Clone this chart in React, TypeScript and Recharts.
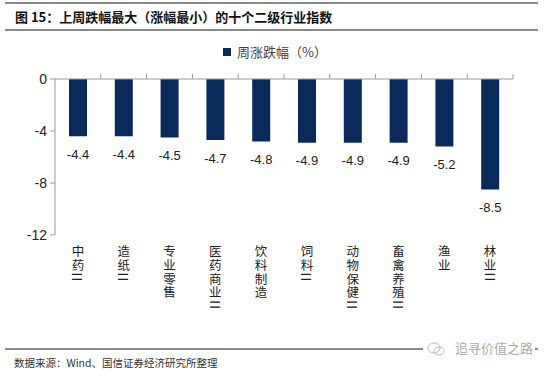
import React from "react";
import { BarChart, Bar, XAxis, YAxis, LabelList } from "recharts";

const categories = ["中药II", "造纸II", "专业零售", "医药商业II", "饮料制造", "饲料II", "动物保健II", "畜禽养殖II", "渔业", "林业II"];
const weeklyChange = [-4.4, -4.4, -4.5, -4.7, -4.8, -4.9, -4.9, -4.9, -5.2, -8.5];
const yTicks = [0, -4, -8, -12];
const seriesName = "周涨跌幅（%）";
const titleText = "图 15：上周跌幅最大（涨幅最小）的十个二级行业指数";
const sourceText = "数据来源：Wind、国信证券经济研究所整理";
const watermarkText = "追寻价值之路";

const data = categories.map((c, i) => ({ name: c, value: weeklyChange[i] }));

const W = 550;
const H = 376;
const PLOT_LEFT = 55;
const PLOT_RIGHT = 513;
const PLOT_TOP = 79;
const PLOT_BOTTOM = 235;
const AXIS_H = 30;
const STEP = (PLOT_RIGHT - PLOT_LEFT) / categories.length;
const BAR_COLOR = "#0b2a5c";
const AXIS_COLOR = "#999";
const CJK = "'Noto Sans CJK SC', sans-serif";
const LATIN = "'Liberation Sans', Arial, sans-serif";

const CategoryTick = (props: any) => {
  const { x, payload } = props;
  return (
    <text
      x={x}
      y={PLOT_BOTTOM + 10}
      style={{ writingMode: "vertical-rl", textOrientation: "mixed" } as any}
      textAnchor="start"
      fontFamily={CJK}
      fontSize={12.5}
      letterSpacing={1.3}
      fill="#222"
    >
      {String(payload.value)}
    </text>
  );
};

const BoundaryTick = (props: any) => {
  const { x } = props;
  const bx = x + STEP / 2;
  return <line x1={bx} x2={bx} y1={PLOT_TOP} y2={PLOT_TOP - 5} stroke={AXIS_COLOR} strokeWidth={1} />;
};

const ValueLabel = (props: any) => {
  const { x, y, width, height, value } = props;
  const end = Math.max(y, y + height);
  return (
    <text
      x={x + width / 2}
      y={end + 18}
      textAnchor="middle"
      dominantBaseline="central"
      fontFamily={LATIN}
      fontSize={13}
      fill="#222"
    >
      {Number(value).toFixed(1)}
    </text>
  );
};

export default function App() {
  return (
    <div style={{ position: "absolute", left: 0, top: 0, width: W, height: H, background: "#fff", overflow: "hidden" }}>
      <div style={{ position: "absolute", left: 5, top: 2, width: 533, height: 2, background: "#8a8a8a" }} />
      <div
        style={{
          position: "absolute",
          left: 15,
          top: 8,
          fontFamily: CJK,
          fontWeight: 700,
          fontSize: 13,
          lineHeight: "18px",
          color: "#111",
          whiteSpace: "nowrap",
        }}
      >
        {titleText}
      </div>
      <div style={{ position: "absolute", left: 5, top: 29, width: 533, height: 2, background: "#8a8a8a" }} />

      <div style={{ position: "absolute", left: 0, top: 0 }}>
        <BarChart
          width={W}
          height={H}
          data={data}
          margin={{ top: PLOT_TOP - AXIS_H, right: W - PLOT_RIGHT, bottom: H - PLOT_BOTTOM - AXIS_H, left: 0 }}
          barCategoryGap={0}
        >
          <XAxis
            xAxisId="top"
            orientation="top"
            dataKey="name"
            height={AXIS_H}
            axisLine={{ stroke: AXIS_COLOR }}
            tickLine={false}
            tick={<BoundaryTick />}
            interval={0}
          />
          <XAxis
            xAxisId="bottom"
            orientation="bottom"
            dataKey="name"
            height={AXIS_H}
            axisLine={false}
            tickLine={false}
            tick={<CategoryTick />}
            interval={0}
          />
          <YAxis
            domain={[-12, 0]}
            ticks={yTicks}
            width={PLOT_LEFT}
            axisLine={{ stroke: AXIS_COLOR }}
            tickLine={{ stroke: AXIS_COLOR }}
            tickSize={5}
            tickMargin={3}
            tick={{ fontFamily: LATIN, fontSize: 14, fill: "#222" }}
            interval={0}
            allowDataOverflow
          />
          <Bar dataKey="value" xAxisId="top" name={seriesName} fill={BAR_COLOR} barSize={18} isAnimationActive={false}>
            <LabelList dataKey="value" content={<ValueLabel />} />
          </Bar>
          <Bar dataKey="value" xAxisId="bottom" fill="none" barSize={0} legendType="none" isAnimationActive={false} />
        </BarChart>
      </div>

      <div
        style={{
          position: "absolute",
          left: 0,
          top: 43,
          width: W,
          display: "flex",
          justifyContent: "center",
          alignItems: "center",
          fontFamily: CJK,
          fontSize: 13,
          lineHeight: "18px",
          color: "#444",
        }}
      >
        <span style={{ display: "inline-block", width: 8, height: 8, background: BAR_COLOR, marginRight: 6 }} />
        <span>{seriesName}</span>
      </div>

      <div style={{ position: "absolute", left: 5, top: 348, width: 533, height: 2, background: "#8a8a8a" }} />
      <div style={{ position: "absolute", left: 423, top: 340, width: 112, height: 18, background: "#fff" }} />
      <svg style={{ position: "absolute", left: 426, top: 341 }} width={20} height={16}>
        <ellipse cx={8} cy={7} rx={6} ry={5} fill="none" stroke="#bbb" strokeWidth={1} />
        <ellipse cx={13} cy={10} rx={5} ry={4} fill="none" stroke="#bbb" strokeWidth={1} />
      </svg>
      <div
        style={{
          position: "absolute",
          left: 455,
          top: 340,
          fontFamily: CJK,
          fontSize: 13,
          lineHeight: "16px",
          color: "#aaa",
          whiteSpace: "nowrap",
        }}
      >
        {watermarkText}
      </div>
      <div
        style={{
          position: "absolute",
          left: 14,
          top: 355,
          fontFamily: CJK,
          fontSize: 10.5,
          lineHeight: "16px",
          color: "#333",
          whiteSpace: "nowrap",
        }}
      >
        {sourceText}
      </div>
    </div>
  );
}
